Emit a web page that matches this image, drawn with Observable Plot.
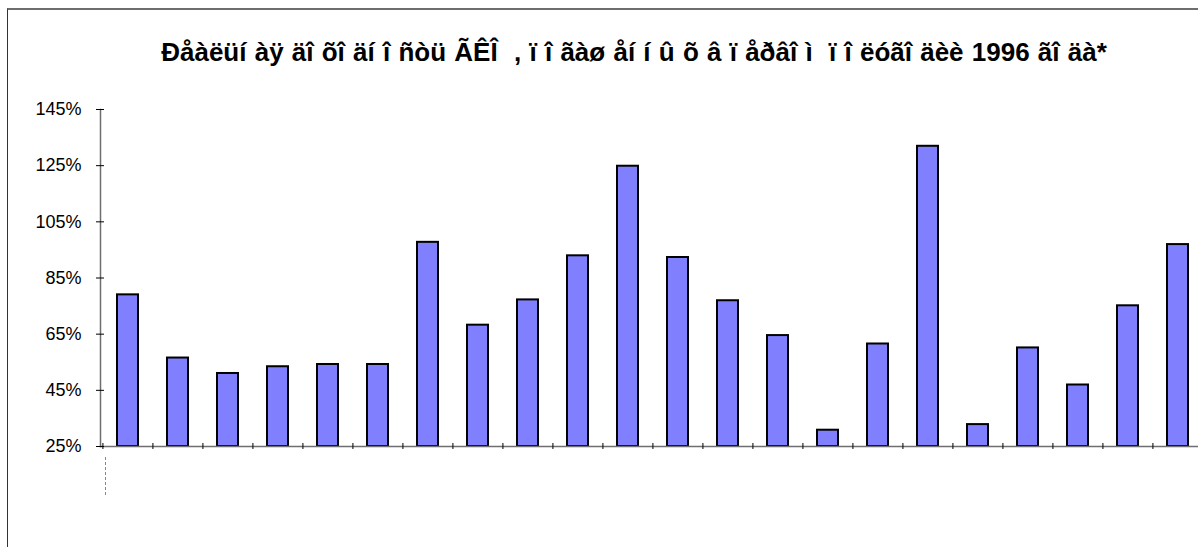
<!DOCTYPE html>
<html>
<head>
<meta charset="utf-8">
<script src="https://cdn.jsdelivr.net/npm/d3@7"></script>
<script src="https://cdn.jsdelivr.net/npm/@observablehq/plot@0.6"></script>
<style>
  html, body { margin: 0; padding: 0; background: #fff; }
  body { width: 1198px; height: 547px; overflow: hidden; position: relative; font-family: "Liberation Sans", Arial, sans-serif; }
  #frame { position: absolute; left: 7px; top: 8px; width: 1300px; height: 600px; border-top: 2px solid #6e6e6e; border-left: 1px solid #333; box-sizing: border-box; }
  #title { position: absolute; left: 0; top: 37px; width: 1268px; text-align: center; white-space: pre; font-weight: bold; font-size: 26px; word-spacing: 1px; line-height: 30px; color: #000; }
  #chart { position: absolute; left: 0; top: 0; width: 1210px; }
  #chart svg { max-width: none !important; width: 1210px; height: 547px; }
  #chart svg text { font-size: 18px; fill: #000; }
  #drop { position: absolute; left: 105px; top: 457px; height: 38px; border-left: 1px dashed #888; }
</style>
</head>
<body>
<div id="frame"></div>
<div id="title"></div>
<div id="chart"></div>
<div id="drop"></div>
<script>
// Chart text
const title = "Ðåàëüí àÿ äî õî äí î ñòü ÃÊÎ  , ï î ãàø åí í û õ â ï åðâî ì  ï î ëóãî äèè 1996 ãî äà*";

// Bond issues (unlabelled on the axis) and their real yields, %
const issues = ["1", "2", "3", "4", "5", "6", "7", "8", "9", "10", "11",
                "12", "13", "14", "15", "16", "17", "18", "19", "20", "21", "22"];
const yields = [79.0, 56.5, 51.0, 53.4, 54.2, 54.2, 97.7, 68.2, 77.2, 92.9, 124.8,
                92.3, 76.9, 64.5, 30.8, 61.5, 131.9, 32.8, 60.1, 46.9, 75.1, 96.9];

// Y axis ticks and base
const yTicks = [25, 45, 65, 85, 105, 125, 145];
const yBase = 25;

const rows = issues.map((issue, i) => ({issue, value: yields[i]}));

const width = 1210, height = 547;
const marginLeft = 100, marginRight = 6, marginTop = 109, marginBottom = 101;
const step = (width - marginLeft - marginRight) / issues.length;

document.getElementById("title").textContent = title;

const chart = Plot.plot({
  width, height, marginLeft, marginRight, marginTop, marginBottom,
  style: {fontFamily: "'Liberation Sans', Arial, sans-serif", fontSize: "18px", color: "#000", background: "transparent"},
  x: {domain: issues, paddingInner: 0.58, paddingOuter: 0.29},
  y: {domain: [yBase, 145]},
  marks: [
    Plot.barY(rows, {x: "issue", y1: yBase, y2: "value", fill: "#8080ff", stroke: "#000", strokeWidth: 2}),
    Plot.frame({anchor: "left", stroke: "#6e6e6e", strokeWidth: 1.5}),
    Plot.frame({anchor: "bottom", stroke: "#6e6e6e", strokeWidth: 1.5}),
    Plot.axisY({ticks: yTicks, tickFormat: d => d + "%", tickSize: 8, tickPadding: 15, dx: 4,
                fontSize: 18, stroke: "#000", strokeOpacity: 1, label: null}),
    Plot.axisX({ticks: issues, tickFormat: () => "", tickSize: 6, dx: -step / 2, dy: -3,
                stroke: "#000", strokeOpacity: 1, label: null})
  ]
});
document.getElementById("chart").appendChild(chart);
</script>
</body>
</html>
